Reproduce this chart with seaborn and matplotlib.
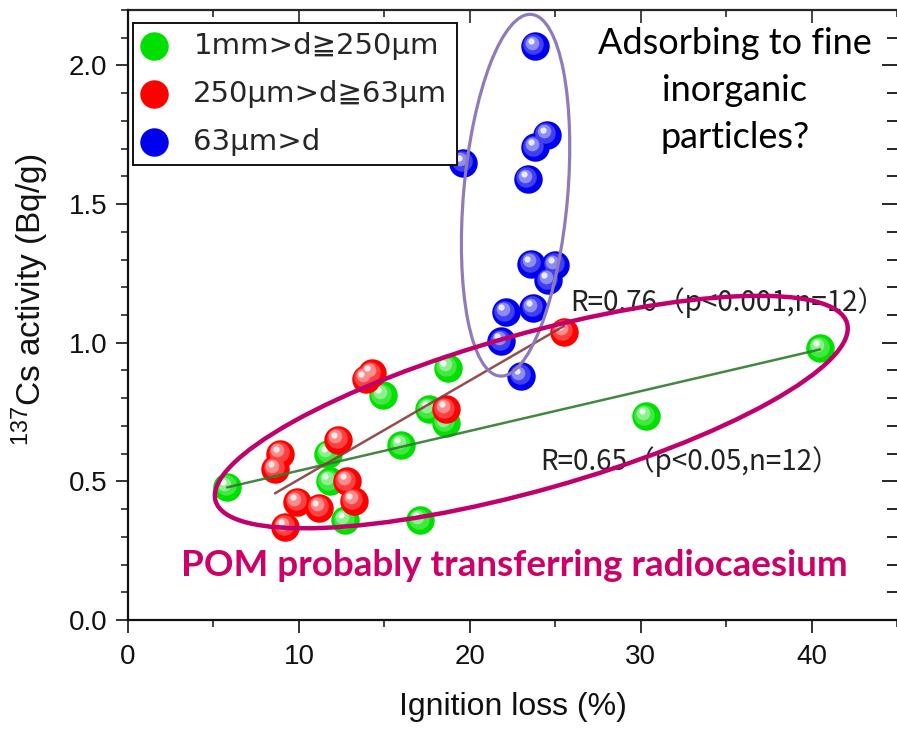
import numpy as np
import pandas as pd
import seaborn as sns
import matplotlib.pyplot as plt
from matplotlib.patches import Ellipse
from matplotlib.transforms import ScaledTranslation, offset_copy
from matplotlib.ticker import MultipleLocator
from matplotlib.colors import to_rgb

# values: ignition loss (%) vs 137Cs activity (Bq/g)
coarse_x = [5.8, 11.7, 11.8, 12.7, 14.9, 16.0, 17.6, 18.6, 18.7, 17.1, 30.3, 40.5]
coarse_y = [0.48, 0.60, 0.50, 0.36, 0.81, 0.63, 0.76, 0.71, 0.91, 0.36, 0.735, 0.98]

medium_x = [8.9, 8.6, 12.3, 14.25, 13.9, 18.6, 12.8, 13.2, 9.9, 11.2, 9.2, 25.5]
medium_y = [0.60, 0.545, 0.65, 0.89, 0.87, 0.76, 0.50, 0.43, 0.425, 0.405, 0.335, 1.04]

fine_x = [23.8, 24.5, 23.8, 23.4, 19.6, 23.6, 25.0, 24.6, 23.7, 22.1, 21.85, 23.0]
fine_y = [2.07, 1.75, 1.705, 1.59, 1.65, 1.285, 1.28, 1.225, 1.125, 1.11, 1.005, 0.88]

labels = ["1mm>d≧250μm", "250μm>d≧63μm", "63μm>d"]
colors = ["#00e000", "#ff0000", "#0000ee"]

r_coarse = "R=0.65（p<0.05,n=12）"
r_medium = "R=0.76（p<0.001,n=12）"
note_lines = ["Adsorbing to fine", "inorganic", "particles?"]
note_y = [2.043, 1.871, 1.701]

sns.set_style("ticks")
plt.rcParams['font.family'] = ['Liberation Sans', 'DejaVu Sans']
plt.rcParams['mathtext.default'] = 'regular'

fig = plt.figure(figsize=(8.97, 7.29), dpi=100)
ax = fig.add_axes([128 / 897, 1 - 620 / 729, 769 / 897, 610 / 729])
ax.set_xlim(0, 45)
ax.set_ylim(0, 2.2)

groups = [(coarse_x, coarse_y), (medium_x, medium_y), (fine_x, fine_y)]

# spheres: base disc plus a few lighter layers shifted to the upper left
shine = [(0.72, 0.25, -1.0, 1.2), (0.48, 0.55, -2.0, 2.4), (0.22, 0.92, -3.0, 3.6)]
for (gx, gy), lab, col in zip(groups, labels, colors):
    sns.scatterplot(x=gx, y=gy, color=col, s=420, linewidth=0, label=lab,
                    ax=ax, zorder=2)
    for frac, mix, dx, dy in shine:
        c = np.array(to_rgb(col)) * (1 - mix) + mix
        tr = offset_copy(ax.transData, fig=fig, x=dx, y=dy, units='points')
        sns.scatterplot(x=gx, y=gy, color=c, s=420 * frac ** 2, linewidth=0,
                        ax=ax, legend=False, transform=tr, zorder=2)

# regression lines over the coarse and medium fractions
sns.regplot(x=coarse_x, y=coarse_y, scatter=False, ci=None, truncate=True,
            color='#2e7a2e', line_kws=dict(lw=1.8, alpha=0.9, zorder=3), ax=ax)
sns.regplot(x=medium_x, y=medium_y, scatter=False, ci=None, truncate=True,
            color='#8a3b3b', line_kws=dict(lw=1.8, alpha=0.9, zorder=3), ax=ax)

# axes, ticks
ax.xaxis.set_major_locator(MultipleLocator(10))
ax.xaxis.set_minor_locator(MultipleLocator(5))
ax.yaxis.set_major_locator(MultipleLocator(0.5))
ax.yaxis.set_minor_locator(MultipleLocator(0.1))
ax.yaxis.set_major_formatter(plt.FormatStrFormatter('%.1f'))
ax.tick_params(which='major', direction='out', length=9, width=1.2,
               labelsize=20, colors='#111111')
ax.tick_params(which='minor', direction='out', length=5, width=1.2)
ax.tick_params(axis='y', pad=6)
ax.tick_params(axis='x', pad=8)
for side in ['top', 'right']:
    ax.spines[side].set_visible(False)
for side in ['left', 'bottom']:
    ax.spines[side].set_linewidth(1.6)
    ax.spines[side].set_color('#111111')

top = ax.secondary_xaxis('top')
top.xaxis.set_major_locator(MultipleLocator(10))
top.xaxis.set_minor_locator(MultipleLocator(5))
top.tick_params(which='major', direction='in', length=9, width=1.2, labeltop=False)
top.tick_params(which='minor', direction='in', length=5, width=1.2)
top.spines['top'].set_linewidth(1.6)

right = ax.secondary_yaxis('right')
right.yaxis.set_major_locator(MultipleLocator(0.5))
right.yaxis.set_minor_locator(MultipleLocator(0.1))
right.tick_params(which='major', direction='in', length=11, width=1.4, labelright=False)
right.tick_params(which='minor', direction='in', length=7, width=1.4)
right.spines['right'].set_visible(False)

ax.set_xlabel('Ignition loss (%)', fontsize=23, color='#111111')
ax.set_ylabel('$^{137}$Cs activity (Bq/g)', fontsize=24, color='#111111')
ax.xaxis.set_label_coords(0.5, -0.118)
ax.yaxis.set_label_coords(-0.10, 0.525)

# legend
handles, labs = ax.get_legend_handles_labels()
leg = ax.legend(handles, labs, loc='upper left', bbox_to_anchor=(0.0065, 0.979),
                borderaxespad=0, frameon=True, fancybox=False, borderpad=0.32,
                labelspacing=0.68, handlelength=0.8, handletextpad=0.95,
                prop=dict(family='DejaVu Sans', size=21))
leg.get_frame().set_edgecolor('#111111')
leg.get_frame().set_linewidth(1.4)
leg.get_frame().set_alpha(1)

# statistics
cjk = ['Noto Sans CJK JP', 'DejaVu Sans']
ax.text(25.9, 1.115, r_medium, fontsize=20, family=cjk, color='#222222', zorder=4)
ax.text(24.15, 0.54, r_coarse, fontsize=20, family=cjk, color='#222222', zorder=4)

# annotations
for line, yy in zip(note_lines, note_y):
    ax.text(35.5, yy, line, ha='center', va='baseline', fontsize=26,
            family=['Lato', 'DejaVu Sans'], color='black', zorder=6)
ax.text(22.6, 0.158, 'POM probably transferring radiocaesium', ha='center',
        va='baseline', fontsize=26.5, family=['Lato', 'DejaVu Sans'],
        fontweight='bold', color='#cc0066', zorder=6)

def ring(cx, cy, w_px, h_px, angle, color, lw):
    tr = fig.dpi_scale_trans + ScaledTranslation(cx, cy, ax.transData)
    e = Ellipse((0, 0), w_px / fig.dpi, h_px / fig.dpi, angle=angle,
                transform=tr, fill=False, edgecolor=color, lw=lw, zorder=5)
    ax.add_patch(e)

ring(22.68, 1.532, 104, 363, -5, '#8f7bb8', 2.3)
ring(23.6, 0.750, 656, 156, 15.7, '#c2006b', 3.2)

fig.savefig('out.png', dpi=100)
